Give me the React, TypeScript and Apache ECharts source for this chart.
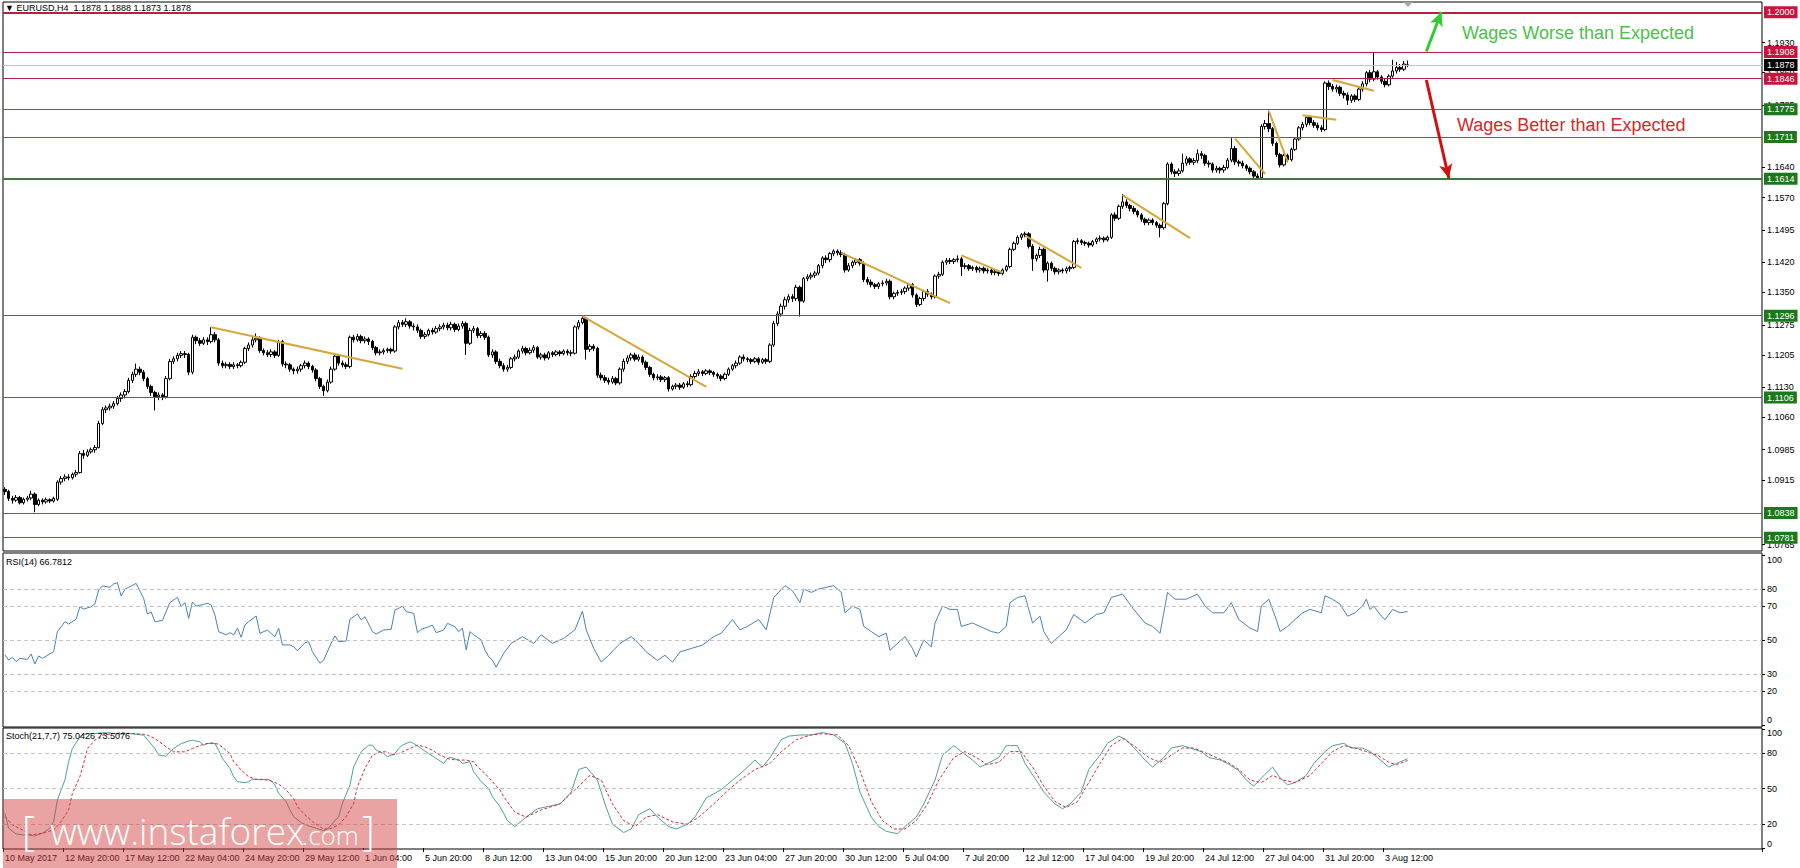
import React, { useEffect, useRef } from 'react';
import * as echarts from 'echarts';

// ---------- data ----------
const TIME_LABELS = ['10 May 2017', '12 May 20:00', '17 May 12:00', '22 May 04:00', '24 May 20:00', '29 May 12:00', '1 Jun 04:00', '5 Jun 20:00', '8 Jun 12:00', '13 Jun 04:00', '15 Jun 20:00', '20 Jun 12:00', '23 Jun 04:00', '27 Jun 20:00', '30 Jun 12:00', '5 Jul 04:00', '7 Jul 20:00', '12 Jul 12:00', '17 Jul 04:00', '19 Jul 20:00', '24 Jul 12:00', '27 Jul 04:00', '31 Jul 20:00', '3 Aug 12:00'];
const BARS_PER_LABEL = 16;
const SLOT_COUNT = 469;

// price scale ticks still readable beside the level boxes
const PRICE_TICKS = [1.1930, 1.1860, 1.1785, 1.1640, 1.1570, 1.1495, 1.1420, 1.1350, 1.1275, 1.1205, 1.1130, 1.1060, 1.0985, 1.0915, 1.0765];
const RSI_TICKS = [0, 20, 30, 50, 70, 80, 100];
const RSI_LEVELS = [80, 70, 50, 30, 20];
const STOCH_TICKS = [0, 20, 50, 80, 100];
const STOCH_LEVELS = [80, 50, 20];

const RESISTANCE_LEVELS = [1.2000, 1.1908, 1.1846];
const SUPPORT_LEVELS = [1.1775, 1.1711, 1.1614, 1.1296, 1.1106, 1.0838, 1.0781];
const BID_PRICE = 1.1878;

// [open, close, low, high]
const CANDLES = [
  [1.0893, 1.0888, 1.0880, 1.0898], [1.0888, 1.0872, 1.0866, 1.0892], [1.0872, 1.0868, 1.0860, 1.0878], [1.0868, 1.0874, 1.0864, 1.0880], [1.0874, 1.0862, 1.0858, 1.0878],
  [1.0862, 1.0870, 1.0858, 1.0874], [1.0870, 1.0873, 1.0865, 1.0878], [1.0873, 1.0882, 1.0868, 1.0890], [1.0882, 1.0858, 1.0840, 1.0886], [1.0858, 1.0868, 1.0854, 1.0872],
  [1.0868, 1.0864, 1.0858, 1.0872], [1.0864, 1.0869, 1.0860, 1.0874], [1.0869, 1.0866, 1.0861, 1.0872], [1.0866, 1.0872, 1.0862, 1.0876], [1.0870, 1.0910, 1.0866, 1.0914],
  [1.0910, 1.0918, 1.0904, 1.0924], [1.0918, 1.0922, 1.0912, 1.0928], [1.0922, 1.0920, 1.0914, 1.0928], [1.0920, 1.0928, 1.0916, 1.0932], [1.0928, 1.0932, 1.0922, 1.0938],
  [1.0932, 1.0976, 1.0930, 1.0982], [1.0976, 1.0972, 1.0964, 1.0984], [1.0972, 1.0980, 1.0968, 1.0986], [1.0980, 1.0985, 1.0976, 1.0990], [1.0985, 1.0990, 1.0978, 1.0996],
  [1.0990, 1.1046, 1.0988, 1.1052], [1.1046, 1.1078, 1.1042, 1.1084], [1.1078, 1.1082, 1.1070, 1.1088], [1.1082, 1.1086, 1.1076, 1.1092], [1.1086, 1.1092, 1.1080, 1.1098],
  [1.1092, 1.1104, 1.1088, 1.1110], [1.1104, 1.1112, 1.1096, 1.1118], [1.1112, 1.1120, 1.1104, 1.1126], [1.1120, 1.1146, 1.1116, 1.1152], [1.1146, 1.1160, 1.1140, 1.1166],
  [1.1160, 1.1172, 1.1154, 1.1185], [1.1172, 1.1165, 1.1158, 1.1178], [1.1165, 1.1150, 1.1144, 1.1170], [1.1150, 1.1132, 1.1126, 1.1154], [1.1132, 1.1118, 1.1110, 1.1136],
  [1.1118, 1.1108, 1.1076, 1.1122], [1.1108, 1.1112, 1.1100, 1.1118], [1.1112, 1.1108, 1.1100, 1.1116], [1.1108, 1.1150, 1.1104, 1.1156], [1.1150, 1.1190, 1.1146, 1.1196],
  [1.1190, 1.1196, 1.1184, 1.1202], [1.1196, 1.1204, 1.1190, 1.1210], [1.1204, 1.1208, 1.1198, 1.1214], [1.1208, 1.1206, 1.1198, 1.1214], [1.1206, 1.1165, 1.1158, 1.1210],
  [1.1165, 1.1246, 1.1160, 1.1252], [1.1246, 1.1238, 1.1230, 1.1250], [1.1238, 1.1232, 1.1226, 1.1244], [1.1232, 1.1240, 1.1228, 1.1246], [1.1240, 1.1236, 1.1228, 1.1246],
  [1.1236, 1.1252, 1.1232, 1.1269], [1.1252, 1.1240, 1.1234, 1.1258], [1.1240, 1.1186, 1.1180, 1.1244], [1.1186, 1.1180, 1.1174, 1.1192], [1.1180, 1.1183, 1.1174, 1.1188],
  [1.1183, 1.1178, 1.1172, 1.1188], [1.1178, 1.1182, 1.1172, 1.1188], [1.1182, 1.1180, 1.1174, 1.1186], [1.1180, 1.1188, 1.1176, 1.1192], [1.1188, 1.1220, 1.1184, 1.1224],
  [1.1220, 1.1228, 1.1214, 1.1234], [1.1228, 1.1240, 1.1222, 1.1246], [1.1240, 1.1244, 1.1234, 1.1255], [1.1244, 1.1215, 1.1210, 1.1248], [1.1215, 1.1210, 1.1204, 1.1220],
  [1.1210, 1.1206, 1.1200, 1.1216], [1.1206, 1.1212, 1.1200, 1.1218], [1.1212, 1.1204, 1.1198, 1.1216], [1.1204, 1.1236, 1.1200, 1.1240], [1.1236, 1.1184, 1.1178, 1.1240],
  [1.1184, 1.1182, 1.1174, 1.1190], [1.1182, 1.1172, 1.1166, 1.1186], [1.1172, 1.1168, 1.1160, 1.1176], [1.1168, 1.1172, 1.1162, 1.1178], [1.1172, 1.1180, 1.1166, 1.1184],
  [1.1180, 1.1186, 1.1174, 1.1192], [1.1186, 1.1178, 1.1172, 1.1190], [1.1178, 1.1170, 1.1164, 1.1182], [1.1170, 1.1150, 1.1144, 1.1174], [1.1150, 1.1132, 1.1126, 1.1154],
  [1.1132, 1.1122, 1.1110, 1.1136], [1.1122, 1.1142, 1.1118, 1.1148], [1.1142, 1.1172, 1.1138, 1.1178], [1.1172, 1.1202, 1.1168, 1.1206], [1.1202, 1.1186, 1.1180, 1.1206],
  [1.1186, 1.1182, 1.1176, 1.1192], [1.1182, 1.1178, 1.1172, 1.1188], [1.1178, 1.1246, 1.1174, 1.1250], [1.1246, 1.1240, 1.1234, 1.1252], [1.1240, 1.1248, 1.1236, 1.1254],
  [1.1248, 1.1238, 1.1232, 1.1252], [1.1238, 1.1242, 1.1232, 1.1248], [1.1242, 1.1236, 1.1228, 1.1246], [1.1236, 1.1222, 1.1216, 1.1240], [1.1222, 1.1210, 1.1204, 1.1226],
  [1.1210, 1.1212, 1.1204, 1.1218], [1.1212, 1.1215, 1.1206, 1.1220], [1.1215, 1.1218, 1.1210, 1.1222], [1.1218, 1.1214, 1.1208, 1.1222], [1.1214, 1.1270, 1.1210, 1.1274],
  [1.1270, 1.1280, 1.1264, 1.1286], [1.1280, 1.1276, 1.1270, 1.1286], [1.1276, 1.1282, 1.1270, 1.1290], [1.1282, 1.1272, 1.1266, 1.1286], [1.1272, 1.1270, 1.1262, 1.1278],
  [1.1270, 1.1262, 1.1256, 1.1276], [1.1262, 1.1248, 1.1242, 1.1266], [1.1248, 1.1252, 1.1242, 1.1258], [1.1252, 1.1262, 1.1248, 1.1266], [1.1262, 1.1258, 1.1252, 1.1268],
  [1.1258, 1.1266, 1.1254, 1.1272], [1.1266, 1.1270, 1.1260, 1.1276], [1.1270, 1.1274, 1.1264, 1.1280], [1.1274, 1.1268, 1.1262, 1.1280], [1.1268, 1.1276, 1.1262, 1.1282],
  [1.1276, 1.1264, 1.1258, 1.1280], [1.1264, 1.1272, 1.1260, 1.1278], [1.1272, 1.1278, 1.1266, 1.1284], [1.1278, 1.1232, 1.1205, 1.1282], [1.1232, 1.1262, 1.1228, 1.1268],
  [1.1262, 1.1266, 1.1256, 1.1272], [1.1266, 1.1250, 1.1244, 1.1270], [1.1250, 1.1255, 1.1244, 1.1260], [1.1255, 1.1246, 1.1240, 1.1260], [1.1246, 1.1205, 1.1200, 1.1250],
  [1.1205, 1.1212, 1.1198, 1.1218], [1.1212, 1.1190, 1.1184, 1.1216], [1.1190, 1.1180, 1.1174, 1.1196], [1.1180, 1.1172, 1.1166, 1.1186], [1.1172, 1.1176, 1.1166, 1.1182],
  [1.1176, 1.1196, 1.1172, 1.1200], [1.1196, 1.1200, 1.1190, 1.1206], [1.1200, 1.1214, 1.1196, 1.1218], [1.1214, 1.1220, 1.1208, 1.1226], [1.1220, 1.1210, 1.1204, 1.1224],
  [1.1210, 1.1216, 1.1206, 1.1222], [1.1216, 1.1222, 1.1210, 1.1228], [1.1222, 1.1200, 1.1196, 1.1226], [1.1200, 1.1205, 1.1194, 1.1210], [1.1205, 1.1198, 1.1192, 1.1210],
  [1.1198, 1.1210, 1.1194, 1.1214], [1.1210, 1.1206, 1.1200, 1.1214], [1.1206, 1.1212, 1.1202, 1.1216], [1.1212, 1.1208, 1.1202, 1.1216], [1.1208, 1.1214, 1.1204, 1.1218],
  [1.1214, 1.1210, 1.1204, 1.1218], [1.1210, 1.1209, 1.1202, 1.1216], [1.1209, 1.1270, 1.1206, 1.1274], [1.1270, 1.1280, 1.1264, 1.1286], [1.1280, 1.1290, 1.1276, 1.1296],
  [1.1290, 1.1218, 1.1194, 1.1292], [1.1218, 1.1225, 1.1212, 1.1230], [1.1225, 1.1220, 1.1214, 1.1230], [1.1220, 1.1158, 1.1152, 1.1224], [1.1158, 1.1152, 1.1146, 1.1164],
  [1.1152, 1.1146, 1.1140, 1.1158], [1.1146, 1.1142, 1.1136, 1.1152], [1.1142, 1.1150, 1.1138, 1.1156], [1.1150, 1.1140, 1.1135, 1.1154], [1.1140, 1.1172, 1.1136, 1.1176],
  [1.1172, 1.1190, 1.1166, 1.1196], [1.1190, 1.1198, 1.1184, 1.1204], [1.1198, 1.1205, 1.1192, 1.1210], [1.1205, 1.1195, 1.1190, 1.1210], [1.1195, 1.1200, 1.1190, 1.1206],
  [1.1200, 1.1188, 1.1182, 1.1204], [1.1188, 1.1176, 1.1170, 1.1192], [1.1176, 1.1160, 1.1154, 1.1180], [1.1160, 1.1152, 1.1146, 1.1164], [1.1152, 1.1154, 1.1146, 1.1160],
  [1.1154, 1.1148, 1.1142, 1.1158], [1.1148, 1.1152, 1.1142, 1.1156], [1.1152, 1.1126, 1.1120, 1.1156], [1.1126, 1.1132, 1.1122, 1.1136], [1.1132, 1.1135, 1.1126, 1.1140],
  [1.1135, 1.1130, 1.1124, 1.1140], [1.1130, 1.1138, 1.1126, 1.1142], [1.1138, 1.1136, 1.1130, 1.1144], [1.1136, 1.1155, 1.1132, 1.1160], [1.1155, 1.1162, 1.1150, 1.1168],
  [1.1162, 1.1166, 1.1156, 1.1172], [1.1166, 1.1162, 1.1156, 1.1170], [1.1162, 1.1168, 1.1158, 1.1172], [1.1168, 1.1164, 1.1158, 1.1172], [1.1164, 1.1160, 1.1154, 1.1168],
  [1.1160, 1.1156, 1.1150, 1.1164], [1.1156, 1.1150, 1.1144, 1.1160], [1.1150, 1.1160, 1.1146, 1.1164], [1.1160, 1.1172, 1.1156, 1.1176], [1.1172, 1.1180, 1.1168, 1.1184],
  [1.1180, 1.1186, 1.1174, 1.1192], [1.1186, 1.1200, 1.1182, 1.1204], [1.1200, 1.1196, 1.1190, 1.1206], [1.1196, 1.1194, 1.1188, 1.1200], [1.1194, 1.1190, 1.1184, 1.1198],
  [1.1190, 1.1196, 1.1186, 1.1200], [1.1196, 1.1188, 1.1182, 1.1200], [1.1188, 1.1194, 1.1184, 1.1198], [1.1194, 1.1190, 1.1184, 1.1198], [1.1190, 1.1228, 1.1186, 1.1232],
  [1.1228, 1.1278, 1.1224, 1.1284], [1.1278, 1.1300, 1.1272, 1.1306], [1.1300, 1.1318, 1.1294, 1.1324], [1.1318, 1.1333, 1.1310, 1.1340], [1.1333, 1.1340, 1.1326, 1.1346],
  [1.1340, 1.1336, 1.1328, 1.1346], [1.1336, 1.1362, 1.1330, 1.1368], [1.1362, 1.1330, 1.1294, 1.1366], [1.1330, 1.1382, 1.1326, 1.1386], [1.1382, 1.1386, 1.1376, 1.1392],
  [1.1386, 1.1390, 1.1380, 1.1396], [1.1390, 1.1395, 1.1384, 1.1400], [1.1395, 1.1412, 1.1390, 1.1416], [1.1412, 1.1430, 1.1406, 1.1434], [1.1430, 1.1426, 1.1418, 1.1436],
  [1.1426, 1.1440, 1.1420, 1.1444], [1.1440, 1.1446, 1.1434, 1.1450], [1.1446, 1.1442, 1.1436, 1.1450], [1.1442, 1.1438, 1.1432, 1.1448], [1.1438, 1.1402, 1.1396, 1.1442],
  [1.1402, 1.1412, 1.1398, 1.1418], [1.1412, 1.1420, 1.1406, 1.1424], [1.1420, 1.1426, 1.1414, 1.1430], [1.1426, 1.1418, 1.1412, 1.1430], [1.1418, 1.1380, 1.1374, 1.1422],
  [1.1380, 1.1374, 1.1368, 1.1386], [1.1374, 1.1368, 1.1362, 1.1380], [1.1368, 1.1364, 1.1358, 1.1372], [1.1364, 1.1370, 1.1358, 1.1374], [1.1370, 1.1372, 1.1364, 1.1378],
  [1.1372, 1.1376, 1.1366, 1.1382], [1.1376, 1.1340, 1.1334, 1.1380], [1.1340, 1.1348, 1.1334, 1.1352], [1.1348, 1.1350, 1.1342, 1.1356], [1.1350, 1.1352, 1.1344, 1.1358],
  [1.1352, 1.1360, 1.1346, 1.1364], [1.1360, 1.1368, 1.1354, 1.1372], [1.1368, 1.1344, 1.1338, 1.1372], [1.1344, 1.1322, 1.1316, 1.1348], [1.1322, 1.1336, 1.1318, 1.1340],
  [1.1336, 1.1352, 1.1330, 1.1356], [1.1352, 1.1346, 1.1340, 1.1358], [1.1346, 1.1340, 1.1334, 1.1350], [1.1340, 1.1388, 1.1336, 1.1392], [1.1388, 1.1392, 1.1382, 1.1398],
  [1.1392, 1.1420, 1.1388, 1.1424], [1.1420, 1.1424, 1.1414, 1.1430], [1.1424, 1.1422, 1.1416, 1.1430], [1.1422, 1.1426, 1.1416, 1.1430], [1.1426, 1.1428, 1.1420, 1.1436],
  [1.1428, 1.1410, 1.1388, 1.1432], [1.1410, 1.1412, 1.1404, 1.1418], [1.1412, 1.1405, 1.1400, 1.1416], [1.1405, 1.1408, 1.1400, 1.1412], [1.1408, 1.1402, 1.1396, 1.1412],
  [1.1402, 1.1406, 1.1396, 1.1410], [1.1406, 1.1400, 1.1394, 1.1410], [1.1400, 1.1402, 1.1394, 1.1406], [1.1402, 1.1396, 1.1390, 1.1406], [1.1396, 1.1398, 1.1390, 1.1402],
  [1.1398, 1.1394, 1.1388, 1.1402], [1.1394, 1.1402, 1.1390, 1.1406], [1.1402, 1.1410, 1.1398, 1.1414], [1.1410, 1.1450, 1.1406, 1.1454], [1.1450, 1.1464, 1.1446, 1.1468],
  [1.1464, 1.1478, 1.1460, 1.1482], [1.1478, 1.1484, 1.1472, 1.1488], [1.1484, 1.1486, 1.1478, 1.1491], [1.1486, 1.1457, 1.1452, 1.1490], [1.1457, 1.1428, 1.1400, 1.1462],
  [1.1428, 1.1436, 1.1422, 1.1440], [1.1436, 1.1450, 1.1430, 1.1456], [1.1450, 1.1402, 1.1396, 1.1454], [1.1402, 1.1418, 1.1375, 1.1422], [1.1418, 1.1406, 1.1400, 1.1422],
  [1.1406, 1.1398, 1.1392, 1.1410], [1.1398, 1.1402, 1.1392, 1.1406], [1.1402, 1.1400, 1.1394, 1.1406], [1.1400, 1.1405, 1.1394, 1.1410], [1.1405, 1.1408, 1.1398, 1.1412],
  [1.1408, 1.1468, 1.1404, 1.1472], [1.1468, 1.1470, 1.1462, 1.1476], [1.1470, 1.1466, 1.1460, 1.1474], [1.1466, 1.1464, 1.1458, 1.1470], [1.1464, 1.1460, 1.1454, 1.1468],
  [1.1460, 1.1468, 1.1456, 1.1472], [1.1468, 1.1474, 1.1462, 1.1478], [1.1474, 1.1476, 1.1468, 1.1482], [1.1476, 1.1472, 1.1466, 1.1480], [1.1472, 1.1478, 1.1468, 1.1482],
  [1.1478, 1.1530, 1.1474, 1.1534], [1.1530, 1.1522, 1.1516, 1.1536], [1.1522, 1.1550, 1.1518, 1.1554], [1.1550, 1.1560, 1.1544, 1.1578], [1.1560, 1.1552, 1.1546, 1.1566],
  [1.1552, 1.1545, 1.1538, 1.1556], [1.1545, 1.1538, 1.1532, 1.1550], [1.1538, 1.1530, 1.1524, 1.1542], [1.1530, 1.1520, 1.1514, 1.1534], [1.1520, 1.1512, 1.1506, 1.1524],
  [1.1512, 1.1518, 1.1506, 1.1522], [1.1518, 1.1512, 1.1506, 1.1522], [1.1512, 1.1506, 1.1500, 1.1516], [1.1506, 1.1500, 1.1478, 1.1510], [1.1500, 1.1556, 1.1496, 1.1560],
  [1.1556, 1.1648, 1.1552, 1.1652], [1.1648, 1.1630, 1.1624, 1.1652], [1.1630, 1.1626, 1.1618, 1.1636], [1.1626, 1.1632, 1.1620, 1.1638], [1.1632, 1.1650, 1.1628, 1.1672],
  [1.1650, 1.1660, 1.1644, 1.1666], [1.1660, 1.1652, 1.1646, 1.1664], [1.1652, 1.1656, 1.1646, 1.1662], [1.1656, 1.1672, 1.1650, 1.1682], [1.1672, 1.1668, 1.1660, 1.1678],
  [1.1668, 1.1650, 1.1644, 1.1672], [1.1650, 1.1648, 1.1640, 1.1656], [1.1648, 1.1634, 1.1628, 1.1652], [1.1634, 1.1638, 1.1628, 1.1644], [1.1638, 1.1634, 1.1626, 1.1642],
  [1.1634, 1.1640, 1.1628, 1.1646], [1.1640, 1.1657, 1.1636, 1.1662], [1.1657, 1.1684, 1.1652, 1.1708], [1.1684, 1.1653, 1.1646, 1.1690], [1.1653, 1.1650, 1.1642, 1.1658],
  [1.1650, 1.1644, 1.1638, 1.1656], [1.1644, 1.1638, 1.1632, 1.1648], [1.1638, 1.1630, 1.1624, 1.1642], [1.1630, 1.1620, 1.1614, 1.1634], [1.1620, 1.1616, 1.1611, 1.1626],
  [1.1616, 1.1735, 1.1612, 1.1740], [1.1735, 1.1742, 1.1728, 1.1750], [1.1742, 1.1730, 1.1722, 1.1772], [1.1730, 1.1696, 1.1690, 1.1734], [1.1696, 1.1670, 1.1664, 1.1700],
  [1.1670, 1.1646, 1.1640, 1.1674], [1.1646, 1.1668, 1.1642, 1.1672], [1.1668, 1.1658, 1.1652, 1.1672], [1.1658, 1.1682, 1.1654, 1.1686], [1.1682, 1.1706, 1.1678, 1.1710],
  [1.1706, 1.1732, 1.1702, 1.1736], [1.1732, 1.1740, 1.1726, 1.1746], [1.1740, 1.1756, 1.1734, 1.1760], [1.1756, 1.1744, 1.1738, 1.1760], [1.1744, 1.1738, 1.1732, 1.1750],
  [1.1738, 1.1732, 1.1726, 1.1744], [1.1732, 1.1728, 1.1722, 1.1738], [1.1728, 1.1836, 1.1724, 1.1840], [1.1836, 1.1828, 1.1820, 1.1842], [1.1828, 1.1822, 1.1816, 1.1834],
  [1.1822, 1.1826, 1.1814, 1.1832], [1.1826, 1.1812, 1.1806, 1.1830], [1.1812, 1.1808, 1.1800, 1.1818], [1.1808, 1.1796, 1.1785, 1.1814], [1.1796, 1.1806, 1.1790, 1.1810],
  [1.1806, 1.1798, 1.1792, 1.1810], [1.1798, 1.1822, 1.1794, 1.1826], [1.1822, 1.1834, 1.1816, 1.1840], [1.1834, 1.1860, 1.1828, 1.1864], [1.1860, 1.1845, 1.1838, 1.1866],
  [1.1845, 1.1862, 1.1840, 1.1908], [1.1862, 1.1850, 1.1844, 1.1866], [1.1850, 1.1840, 1.1834, 1.1854], [1.1840, 1.1832, 1.1826, 1.1846], [1.1832, 1.1852, 1.1828, 1.1856],
  [1.1852, 1.1864, 1.1848, 1.1890], [1.1864, 1.1872, 1.1858, 1.1885], [1.1872, 1.1868, 1.1862, 1.1880], [1.1868, 1.1880, 1.1864, 1.1887], [1.1878, 1.1878, 1.1873, 1.1888],
];

// [bar index, value]
const RSI_POINTS = [
  [0, 41.2], [1, 38.2], [2, 39.8], [3, 37.3], [4, 39.2], [6, 38.6], [7, 41.8], [8, 35.9], [9, 40.6], [10, 39.2], [12, 41.8], [13, 43.1], [14, 54.9], [15, 57.8], [16, 60.8], [17, 59.4], [19, 62.2], [20, 69.6], [21, 68.2], [23, 69.6], [24, 71.2], [25, 79.4], [26, 81.8], [28, 81], [29, 83], [30, 83.7], [31, 75.9], [32, 79.8], [33, 81], [35, 83.3], [37, 74.5], [38, 65.3], [39, 66.5], [40, 60.8], [42, 61.4], [44, 72], [45, 73.5], [46, 75.1], [47, 69.6], [48, 72], [49, 62.7],
  [50, 72.4], [51, 70], [53, 71], [54, 71.6], [55, 70.6], [56, 64.7], [57, 54.9], [59, 53], [60, 54.3], [61, 53], [62, 56.9], [63, 51.6], [64, 58.8], [65, 60.8], [67, 64.1], [68, 53.9], [70, 55.9], [71, 53.9], [72, 52], [73, 56.9], [74, 47.1], [76, 47.1], [77, 46.1], [78, 43.7], [80, 48.4], [81, 49], [82, 43.1], [84, 36.3], [85, 38.2], [87, 48.1], [88, 52.4], [89, 49], [91, 49.4], [92, 62.2], [94, 65.3], [95, 61.8], [96, 63.7], [98, 54.9], [99, 53.5],
  [101, 55.9], [103, 56.3], [104, 67.7], [105, 68.6], [106, 70], [107, 66.7], [109, 65.7], [110, 54.3], [111, 56.3], [113, 57.8], [114, 58.8], [115, 54.3], [117, 55.9], [118, 59.8], [120, 57.8], [121, 54.9], [122, 57], [123, 44.1], [124, 54.9], [125, 53], [126, 51.6], [127, 50], [128, 44.1], [129, 40.2], [130, 38.2], [131, 34], [133, 42.2],
  [135, 48], [138, 52], [141, 48], [143, 53], [146, 48], [149, 51], [152, 56], [154, 67], [155, 56], [157, 45], [159, 37], [161, 41], [164, 48], [167, 52], [169, 48], [171, 43], [174, 38], [176, 41], [178, 37], [180, 43], [183, 45], [186, 47], [189, 52], [191, 54], [194, 62], [196, 56], [198, 58],
  [201, 62], [203, 56], [205, 75], [208, 82], [210, 79], [212, 72], [213, 80], [215, 78], [217, 80], [219, 81], [221, 82], [223, 78], [224, 66], [226, 70], [228, 68], [229, 58], [231, 55], [233, 52], [235, 54], [236, 44], [238, 48], [240, 52], [242, 45], [243, 40], [245, 50], [247, 46], [248, 60], [250, 70],
  [252, 68], [254, 68], [255, 58], [258, 60], [261, 57], [263, 55], [265, 54], [267, 58], [268, 72], [270, 75], [272, 76], [274, 60], [276, 64], [277, 55], [279, 48], [281, 52], [283, 56], [285, 65], [288, 60], [291, 65], [293, 66], [295, 75], [298, 77],
  [301, 68], [304, 60], [306, 58], [308, 54], [310, 78], [312, 74], [315, 74], [318, 77], [320, 70], [322, 66], [325, 66], [327, 72], [329, 62], [332, 57], [334, 55], [335, 70], [337, 74], [339, 62], [340, 55], [342, 58], [344, 62], [346, 66], [348, 68],
  [351, 66], [352, 76], [354, 74], [356, 71], [358, 64], [360, 66], [362, 70], [363, 74], [364, 68], [365, 70], [367, 64], [368, 62], [370, 68], [372, 66], [374, 66.78],
];

const STOCH_K = [
  [0, 29.2], [1, 16.6], [3, 11.8], [5, 11], [6, 11], [8, 10.2], [10, 12.4], [12, 16.6], [13, 22.2], [14, 40.3], [16, 57.1], [17, 72.5], [18, 83.6], [20, 93.4], [21, 95.6], [22, 96.2], [24, 96.2], [26, 96.8], [28, 96.8], [29, 96.2], [31, 95.6], [33, 96.2], [35, 95.6], [37, 94.8], [38, 91.2], [40, 83.6], [41, 78], [43, 77.2], [44, 80.8], [45, 83.6], [47, 87.8], [49, 89.8],
  [50, 90.6], [52, 89.2], [53, 86.4], [54, 87.8], [56, 87.8], [57, 82.2], [58, 75.3], [60, 66.9], [61, 59.9], [62, 55.7], [64, 54.9], [65, 55.7], [66, 57.7], [68, 57.7], [70, 57.7], [71, 56.5], [72, 52.9], [73, 45.9], [75, 38.9], [76, 32], [77, 26.4], [79, 21.3], [81, 18.5], [83, 16.6], [85, 14.6], [86, 15.8], [87, 19.4], [89, 26.4], [90, 37.5], [92, 52.9], [93, 68.3], [95, 80.8], [97, 86.4], [98, 86.4], [99, 82.2],
  [101, 79.4], [102, 76.6], [104, 79.4], [105, 83.6], [106, 86.4], [108, 89.2], [109, 87.8], [111, 83.6], [113, 79.4], [115, 75.3], [117, 71.1], [118, 75.3], [119, 76.1], [121, 73.9], [122, 71.1], [124, 72.5], [125, 64.1], [127, 55.7], [129, 50.1], [130, 43.1], [132, 34.7], [133, 29.2],
  [134, 23], [136, 18], [139, 26], [142, 33], [145, 35], [148, 37], [151, 47], [153, 66], [155, 68], [158, 57], [160, 37], [162, 20], [165, 13], [167, 16], [169, 28], [172, 33], [174, 26], [177, 18], [179, 16], [182, 20], [184, 26], [187, 42], [191, 49], [194, 57], [197, 65],
  [200, 74], [202, 68], [204, 76], [207, 91], [209, 94], [212, 95], [215, 95], [218, 97], [221, 95], [224, 88], [226, 71], [228, 47], [231, 26], [233, 18], [235, 14], [238, 12], [240, 18], [243, 26], [245, 37], [248, 57],
  [250, 78], [253, 86], [255, 81], [258, 74], [260, 68], [262, 71], [265, 76], [267, 86], [270, 86], [272, 71], [275, 57], [277, 47], [280, 37], [282, 33], [284, 37], [287, 47], [289, 66], [292, 78], [294, 88], [297, 94], [299, 91],
  [302, 81], [304, 74], [306, 68], [309, 76], [311, 84], [314, 86], [316, 84], [319, 81], [321, 76], [324, 74], [326, 71], [329, 65], [331, 57], [333, 52], [336, 62], [338, 68], [340, 59], [342, 53], [344, 55], [347, 61], [349, 71],
  [352, 81], [354, 86], [357, 88], [359, 84], [362, 84], [364, 81], [366, 76], [369, 68], [371, 71], [374, 75.04],
];

const STOCH_D = [
  [0, 26.4], [2, 19.4], [5, 14.6], [7, 11], [10, 12.4], [13, 15.2], [15, 22.2], [17, 32], [18, 45.9], [20, 59.9], [21, 71.1], [22, 83.6], [24, 90.6], [26, 94.8], [29, 96.2], [31, 96.8], [34, 96.2], [37, 95.6], [38, 94.8], [40, 92], [43, 85], [45, 80.8], [48, 80.8],
  [50, 83.6], [53, 87.2], [55, 88.4], [57, 87.2], [60, 79.4], [61, 72.5], [63, 65.5], [65, 59.9], [67, 57.7], [70, 57.1], [71, 56.3], [73, 53.7], [75, 48.7], [77, 41.7], [78, 34.7], [80, 27.8], [82, 22.2], [84, 18], [85, 15.8], [87, 16.6], [89, 19.4], [91, 26.4], [93, 37.5], [94, 51.5], [96, 66.9], [98, 78],
  [100, 80.8], [102, 80.8], [103, 78], [105, 79.4], [107, 82.2], [109, 85], [110, 86.4], [112, 85], [114, 82.2], [116, 78], [118, 75.3], [119, 74.4], [121, 73.9], [123, 73.9], [125, 72.5], [126, 68.3], [128, 62.7], [130, 55.7], [132, 48.7], [133, 43.1],
  [136, 30], [139, 26], [143, 32], [148, 37], [152, 49], [156, 61], [159, 57], [162, 37], [165, 23], [168, 18], [171, 26], [174, 28], [178, 22], [182, 20], [185, 26], [189, 37], [193, 49], [196, 57],
  [200, 66], [204, 71], [207, 81], [211, 91], [215, 95], [218, 96], [222, 95], [225, 86], [228, 65], [231, 39], [234, 23], [237, 16], [240, 16], [243, 23], [246, 37], [249, 57],
  [253, 76], [256, 81], [259, 76], [262, 70], [265, 72], [268, 81], [271, 81], [274, 68], [277, 52], [280, 39], [283, 34], [286, 39], [289, 55], [292, 71], [295, 86], [298, 92],
  [301, 86], [305, 76], [308, 72], [311, 78], [314, 84], [317, 84], [320, 80], [323, 76], [326, 72], [329, 66], [332, 57], [335, 55], [338, 61], [341, 57], [344, 55], [348, 61],
  [351, 71], [354, 81], [357, 86], [360, 84], [363, 81], [366, 78], [369, 72], [371, 70], [374, 73.51],
];

// trend lines: [[bar, price], [bar, price]]
const TRENDLINES = [
  [[55, 1.1269], [106, 1.1173]],
  [[154, 1.1295], [187, 1.1131]],
  [[223, 1.1442], [252, 1.1325]],
  [[255, 1.1436], [266, 1.1396]],
  [[272, 1.1482], [287, 1.1407]],
  [[298, 1.1576], [316, 1.1476]],
  [[328, 1.1707], [336, 1.1625]],
  [[337, 1.1771], [342, 1.1653]],
  [[346, 1.1761], [355, 1.1751]],
  [[354, 1.1843], [365, 1.1818]],
];

const ARROW_UP = [[379, 1.1909], [383, 1.2001]];
const ARROW_DOWN = [[379, 1.1843], [385, 1.1615]];

const HEADER = '\u25BC EURUSD,H4  1.1878 1.1888 1.1873 1.1878';
const RSI_TITLE = 'RSI(14) 66.7812';
const STOCH_TITLE = 'Stoch(21,7,7) 75.0426 73.5076';
const NOTE_UP = 'Wages Worse than Expected';
const NOTE_DOWN = 'Wages Better than Expected';

// ---------- styling ----------
const FONT = "'Liberation Sans', Arial, sans-serif";
const WM_FONT = "'Open Sans', 'Noto Sans', sans-serif";
const RED_LINE = '#b8203f';
const RED_BOX = '#c8143c';
const GREEN_LINE = '#3b7a3b';
const GREEN_BOX = '#1b781b';
const GOLD = '#d6a637';

const SLOTS = Array.from({ length: SLOT_COUNT }, (_, i) => String(i));
const isLabelSlot = (i: number) => i % BARS_PER_LABEL === 0 && i / BARS_PER_LABEL < TIME_LABELS.length;

function levelItem(price: number, color: string, width: number, box: string) {
  return {
    yAxis: price,
    lineStyle: { color, width, type: 'solid' },
    label: {
      show: true,
      position: 'end',
      distance: 2,
      formatter: price.toFixed(4),
      backgroundColor: box,
      color: '#ffffff',
      padding: [2, 3, 1, 3],
      fontSize: 9,
      fontFamily: FONT,
    },
  };
}

function segment(pts: number[][], color: string, width: number, arrow: boolean) {
  const ls = { color, width, type: 'solid' };
  return [
    { coord: pts[0], symbol: 'none', lineStyle: ls, label: { show: false } },
    { coord: pts[1], symbol: arrow ? 'arrow' : 'none', symbolSize: arrow ? [10, 14] : 0, lineStyle: ls, label: { show: false } },
  ];
}

function buildOption() {
  const levelData: any[] = [];
  RESISTANCE_LEVELS.forEach((p) => levelData.push(levelItem(p, RED_LINE, p === 1.2 ? 2 : 1, RED_BOX)));
  levelData.push(levelItem(BID_PRICE, '#c4c4c4', 1, '#000000'));
  SUPPORT_LEVELS.forEach((p) => levelData.push(levelItem(p, GREEN_LINE, p === 1.1614 ? 2 : 1, GREEN_BOX)));
  TRENDLINES.forEach((t) => levelData.push(segment(t, GOLD, 2, false)));
  levelData.push(segment(ARROW_UP, '#2fcc2f', 3, true));
  levelData.push(segment(ARROW_DOWN, '#d01010', 3, true));

  const gridBase = { left: 3, right: 38, show: true, borderColor: '#000000', borderWidth: 1, backgroundColor: 'transparent', outerBoundsMode: 'none' };

  const xAxis = [0, 1, 2].map((g) => ({
    type: 'category',
    gridIndex: g,
    data: SLOTS,
    boundaryGap: true,
    axisLine: { show: false },
    splitLine: { show: false },
    axisTick: g === 2
      ? { show: true, interval: (i: number) => isLabelSlot(i), length: 4, lineStyle: { color: '#000000' } }
      : { show: false },
    axisLabel: g === 2
      ? {
          show: true,
          interval: (i: number) => isLabelSlot(i),
          formatter: (_v: string, i: number) => TIME_LABELS[i / BARS_PER_LABEL] ?? '',
          align: 'left',
          color: '#000000',
          fontSize: 9,
          fontFamily: FONT,
          margin: 4,
        }
      : { show: false },
  }));

  const yBase = (g: number, min: number, max: number, ticks: number[], fmt: (v: number) => string, rich?: any) => ({
    type: 'value',
    gridIndex: g,
    position: 'right',
    min,
    max,
    axisLine: { show: false },
    splitLine: { show: false },
    axisTick: { show: true, customValues: ticks, length: 3, lineStyle: { color: '#000000' } },
    axisLabel: { show: true, customValues: ticks, formatter: fmt, color: '#000000', fontSize: 9, fontFamily: FONT, margin: 5, rich },
  });

  const edgeRich = { lo: { padding: [0, 0, 9, 0], fontSize: 9, color: '#000' }, hi: { padding: [9, 0, 0, 0], fontSize: 9, color: '#000' } };

  const yAxis = [
    yBase(0, 1.0750, 1.2024, PRICE_TICKS, (v) => v.toFixed(4)),
    yBase(1, -1.18, 101.18, RSI_TICKS, (v) => (v === 0 ? '{lo|0}' : v === 100 ? '{hi|100}' : String(v)), edgeRich),
    yBase(2, -0.84, 100.84, STOCH_TICKS, (v) => (v === 100 ? '{hi|100}' : v === 0 ? '{lo|0}' : String(v)), edgeRich),
  ];

  const dashedLevels = (levels: number[]) => ({
    silent: true,
    symbol: ['none', 'none'],
    label: { show: false },
    lineStyle: { color: '#c4c4c4', width: 1, type: [4, 3] },
    data: levels.map((v) => ({ yAxis: v })),
  });

  const txt = (text: string, x: number, y: number, size: number, color: string, extra: any = {}) => ({
    type: 'text',
    z: 100,
    x,
    y,
    style: {
      text,
      fill: color,
      font: `${extra.weight || 'normal'} ${size}px ${extra.family || FONT}`,
      lineHeight: extra.lh,
      verticalAlign: extra.va || 'top',
      align: 'left',
    },
  });

  const wm = (size: number) => ({ va: 'bottom', weight: 300, family: WM_FONT, lh: size });

  return {
    animation: false,
    backgroundColor: '#ffffff',
    grid: [
      { ...gridBase, top: 2, height: 549 },
      { ...gridBase, top: 553, height: 174 },
      { ...gridBase, top: 728, height: 121 },
    ],
    xAxis,
    yAxis,
    series: [
      {
        type: 'candlestick',
        xAxisIndex: 0,
        yAxisIndex: 0,
        data: CANDLES,
        barWidth: 3,
        itemStyle: { color: '#ffffff', color0: '#000000', borderColor: '#000000', borderColor0: '#000000', borderWidth: 1 },
        markLine: { silent: true, symbol: ['none', 'none'], precision: 4, label: { show: false }, data: levelData },
        z: 3,
      },
      {
        type: 'line',
        xAxisIndex: 1,
        yAxisIndex: 1,
        data: RSI_POINTS,
        showSymbol: false,
        lineStyle: { color: '#4a80b4', width: 1 },
        markLine: dashedLevels(RSI_LEVELS),
      },
      {
        type: 'line',
        xAxisIndex: 2,
        yAxisIndex: 2,
        data: STOCH_K,
        showSymbol: false,
        lineStyle: { color: '#4f9e9e', width: 1 },
        markLine: dashedLevels(STOCH_LEVELS),
      },
      {
        type: 'line',
        xAxisIndex: 2,
        yAxisIndex: 2,
        data: STOCH_D,
        showSymbol: false,
        lineStyle: { color: '#d03030', width: 1, type: [3, 2] },
      },
    ],
    graphic: [
      txt(HEADER, 5, 3, 9, '#000000'),
      txt(RSI_TITLE, 6, 557, 9, '#000000'),
      txt(STOCH_TITLE, 6, 731, 9, '#000000'),
      txt(NOTE_UP, 1462, 33, 18, '#4cc04c', { va: 'middle' }),
      txt(NOTE_DOWN, 1457, 125, 18, '#d42a2a', { va: 'middle' }),
      { type: 'polygon', z: 100, shape: { points: [[1403, 2], [1413, 2], [1408, 7]] }, style: { fill: '#a8a8a8' } },
      { type: 'rect', z: 100, shape: { x: 3, y: 799, width: 394, height: 69 }, style: { fill: 'rgba(212, 62, 62, 0.48)' } },
      txt('[', 22, 849, 40, '#ffffff', wm(40)),
      txt('www.instaforex', 50, 849, 37, '#ffffff', wm(37)),
      txt('.com', 302, 848, 26, '#ffffff', wm(26)),
      txt(']', 362, 849, 40, '#ffffff', wm(40)),
    ],
  };
}

export default function App() {
  const ref = useRef<HTMLDivElement>(null);
  useEffect(() => {
    document.body.style.margin = '0';
    const chart = echarts.init(ref.current as HTMLDivElement, null, { renderer: 'svg' });
    chart.setOption(buildOption() as any);
    return () => chart.dispose();
  }, []);
  return <div ref={ref} style={{ width: 1800, height: 868 }} />;
}
